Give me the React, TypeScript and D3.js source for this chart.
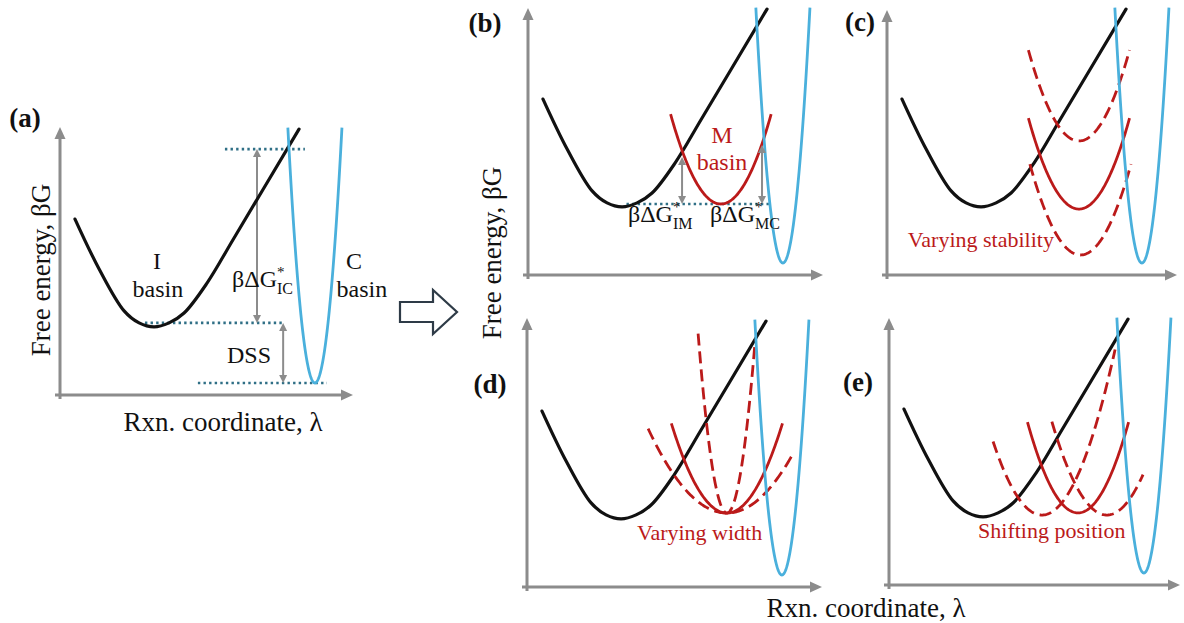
import React from "react";
import * as d3 from "d3";

const W = 1184;
const H = 623;
const SERIF = "'Liberation Serif', 'Times New Roman', serif";

const BLACK = "#111111";
const BLUE = "#4ab0dc";
const RED = "#bb1a1a";
const GREY = "#8c8c8c";
const TEAL = "#2f6f86";

// Reaction coordinate λ and free energy βG use arbitrary units on [0, 10] in every panel.

// I basin: points (λ, βG) along the intermediate-state well (skewed, almost linear on its right flank)
const I_LAMBDA = [0.51, 1.33, 2.18, 2.69, 3.2, 3.71, 4.22, 5.0, 5.92, 8.13];
const I_G = [6.59, 4.72, 3.15, 2.7, 2.55, 2.7, 3.07, 4.19, 5.88, 9.96];

// C basin: harmonic well βG = min + k (λ − centre)²
const C_BASIN = { center: 8.67, min: 0.45, k: 11.3, from: 7.75, to: 9.59 };

// M basins drawn in panels (b)–(e); "variant" marks the alternative wells
const M_BASINS = [
  { panel: "b", center: 6.56, min: 2.66, k: 1.15, from: 4.85, to: 8.27, variant: false },
  { panel: "c", center: 6.53, min: 5.02, k: 1.15, from: 4.81, to: 8.25, variant: true },
  { panel: "c", center: 6.53, min: 2.47, k: 1.15, from: 4.81, to: 8.25, variant: false },
  { panel: "c", center: 6.58, min: 0.75, k: 1.15, from: 4.86, to: 8.3, variant: true },
  { panel: "d", center: 6.8, min: 2.77, k: 7.0, from: 5.82, to: 7.76, variant: true },
  { panel: "d", center: 6.8, min: 2.77, k: 0.94, from: 4.91, to: 8.69, variant: false },
  { panel: "d", center: 6.8, min: 2.77, k: 0.44, from: 4.12, to: 9.05, variant: true },
  { panel: "e", center: 5.2, min: 2.62, k: 1.0, from: 3.54, to: 7.69, variant: true },
  { panel: "e", center: 6.43, min: 2.7, k: 1.15, from: 4.71, to: 8.15, variant: false },
  { panel: "e", center: 7.41, min: 2.62, k: 1.0, from: 5.54, to: 8.64, variant: true },
];

// Reference levels (βG, λ from, λ to)
const LEVELS_A = [
  { g: 9.21, from: 5.61, to: 8.33 },
  { g: 2.7, from: 2.89, to: 7.65 },
  { g: 0.45, from: 4.69, to: 9.08 },
];
const LEVELS_B = [{ g: 2.66, from: 3.35, to: 8.23 }];

// Barrier / stability gaps (λ, βG low, βG high)
const GAPS_A = [
  { l: 6.7, g0: 2.7, g1: 9.21 },
  { l: 7.59, g0: 0.45, g1: 2.7 },
];
const GAPS_B = [
  { l: 5.24, g0: 2.66, g1: 4.42 },
  { l: 7.96, g0: 2.66, g1: 4.87 },
];

// Panel frames: axis origin and arrow tips in pixels
const PANELS = [
  { id: "a", ox: 60, oy: 395, xTip: 353, yTip: 127 },
  { id: "b", ox: 528, oy: 275, xTip: 823, yTip: 8 },
  { id: "c", ox: 887, oy: 275, xTip: 1177, yTip: 10 },
  { id: "d", ox: 527, oy: 587, xTip: 822, yTip: 318 },
  { id: "e", ox: 889, oy: 585, xTip: 1180, yTip: 318 },
];

const TAGS = [
  { text: "(a)", x: 25, y: 127 },
  { text: "(b)", x: 485, y: 32 },
  { text: "(c)", x: 860, y: 31 },
  { text: "(d)", x: 490, y: 393 },
  { text: "(e)", x: 858, y: 391 },
];

function makeScales(p: { ox: number; oy: number }) {
  const x = d3.scaleLinear().domain([0, 10]).range([p.ox, p.ox + 294]);
  const y = d3.scaleLinear().domain([0, 10]).range([p.oy, p.oy - 267]);
  return { x, y };
}

type Basin = { center: number; min: number; k: number; from: number; to: number };

function basinPath(sx: d3.ScaleLinear<number, number>, sy: d3.ScaleLinear<number, number>, b: Basin) {
  const pts: [number, number][] = d3.range(0, 121).map((i) => {
    const l = b.from + ((b.to - b.from) * i) / 120;
    return [sx(l), sy(b.min + b.k * (l - b.center) ** 2)];
  });
  return d3.line()(pts) || "";
}

function iBasinPath(sx: d3.ScaleLinear<number, number>, sy: d3.ScaleLinear<number, number>) {
  const pts: [number, number][] = I_LAMBDA.map((l, i) => [sx(l), sy(I_G[i])]);
  return d3.line().curve(d3.curveCatmullRom.alpha(0.5))(pts) || "";
}

function Axes({ p }: { p: (typeof PANELS)[number] }) {
  return (
    <g>
      <line x1={p.ox} y1={p.oy + 4} x2={p.ox} y2={p.yTip + 10} stroke={GREY} strokeWidth={3} />
      <path d={`M${p.ox},${p.yTip} L${p.ox - 5.5},${p.yTip + 12} L${p.ox + 5.5},${p.yTip + 12} Z`} fill={GREY} />
      <line x1={p.ox - 5} y1={p.oy} x2={p.xTip - 10} y2={p.oy} stroke={GREY} strokeWidth={3} />
      <path d={`M${p.xTip},${p.oy} L${p.xTip - 12},${p.oy - 5.5} L${p.xTip - 12},${p.oy + 5.5} Z`} fill={GREY} />
    </g>
  );
}

function GapArrow({ x, y0, y1 }: { x: number; y0: number; y1: number }) {
  // y0 is the lower end (larger pixel value)
  const h = 8;
  const w = 4;
  return (
    <g>
      <line x1={x} y1={y0 - h + 1} x2={x} y2={y1 + h - 1} stroke={GREY} strokeWidth={2} />
      <path d={`M${x},${y1} L${x - w},${y1 + h} L${x + w},${y1 + h} Z`} fill={GREY} />
      <path d={`M${x},${y0} L${x - w},${y0 - h} L${x + w},${y0 - h} Z`} fill={GREY} />
    </g>
  );
}

function Barrier({ x, y, sub, size = 24 }: { x: number; y: number; sub: string; size?: number }) {
  return (
    <text x={x} y={y} fontFamily={SERIF} fontSize={size} fill={BLACK}>
      βΔG
      <tspan dy={-10} fontSize={15}>*</tspan>
      <tspan dx={-7.5} dy={17} fontSize={16}>{sub}</tspan>
    </text>
  );
}

function Panel({ p }: { p: (typeof PANELS)[number] }) {
  const { x, y } = makeScales(p);
  const ms = M_BASINS.filter((m) => m.panel === p.id);
  return (
    <g>
      <Axes p={p} />
      {p.id === "a" &&
        LEVELS_A.map((lv, i) => (
          <line key={i} x1={x(lv.from)} x2={x(lv.to)} y1={y(lv.g)} y2={y(lv.g)} stroke={TEAL} strokeWidth={2.6} strokeDasharray="2.4 3.2" />
        ))}
      {p.id === "b" &&
        LEVELS_B.map((lv, i) => (
          <line key={i} x1={x(lv.from)} x2={x(lv.to)} y1={y(lv.g)} y2={y(lv.g)} stroke={TEAL} strokeWidth={2.6} strokeDasharray="2.4 3.2" />
        ))}
      {p.id === "a" && GAPS_A.map((g, i) => <GapArrow key={i} x={x(g.l)} y0={y(g.g0)} y1={y(g.g1)} />)}
      <path d={iBasinPath(x, y)} fill="none" stroke={BLACK} strokeWidth={3.2} strokeLinecap="round" />
      {ms.map((m, i) => (
        <path
          key={i}
          d={basinPath(x, y, m)}
          fill="none"
          stroke={RED}
          strokeWidth={2.8}
          strokeDasharray={m.variant ? "12 6" : undefined}
        />
      ))}
      <path d={basinPath(x, y, C_BASIN)} fill="none" stroke={BLUE} strokeWidth={2.8} />
      {p.id === "b" && GAPS_B.map((g, i) => <GapArrow key={i} x={x(g.l)} y0={y(g.g0)} y1={y(g.g1)} />)}
    </g>
  );
}

export default function App() {
  const pa = makeScales(PANELS[0]);
  const pb = makeScales(PANELS[1]);
  const pc = makeScales(PANELS[2]);
  const pd = makeScales(PANELS[3]);
  const pe = makeScales(PANELS[4]);
  return (
    <svg
      width={W}
      height={H}
      viewBox={`0 0 ${W} ${H}`}
      style={{ position: "absolute", left: 0, top: 0, background: "#ffffff" }}
    >
      <rect x={0} y={0} width={W} height={H} fill="#ffffff" />
      {PANELS.map((p) => (
        <Panel key={p.id} p={p} />
      ))}

      {TAGS.map((t) => (
        <text key={t.text} x={t.x} y={t.y} textAnchor="middle" fontFamily={SERIF} fontWeight="bold" fontSize={27} fill={BLACK}>
          {t.text}
        </text>
      ))}

      {/* panel (a) annotations */}
      <g fontFamily={SERIF} fontSize={24} fill={BLACK} textAnchor="middle">
        <text x={pa.x(3.3)} y={pa.y(4.72)}>I</text>
        <text x={pa.x(3.33)} y={pa.y(3.67)}>basin</text>
        <text x={pa.x(10.0)} y={pa.y(4.72)}>C</text>
        <text x={pa.x(10.27)} y={pa.y(3.67)}>basin</text>
      </g>
      <Barrier x={pa.x(5.85)} y={pa.y(4.04)} sub="IC" />
      <text x={pa.x(5.68)} y={pa.y(1.2)} fontFamily={SERIF} fontSize={24} fill={BLACK}>
        DSS
      </text>
      <text transform={`translate(50,270) rotate(-90)`} textAnchor="middle" fontFamily={SERIF} fontSize={27} fill={BLACK}>
        Free energy, βG
      </text>
      <text x={223} y={431} textAnchor="middle" fontFamily={SERIF} fontSize={27} fill={BLACK}>
        Rxn. coordinate, λ
      </text>

      {/* transition arrow */}
      <path
        d="M400,302 L433,302 L433,290 L457,312 L433,334 L433,322 L400,322 Z"
        fill="#ffffff"
        stroke="#2e3b47"
        strokeWidth={2.2}
        strokeLinejoin="miter"
      />

      {/* panel (b) annotations */}
      <g fontFamily={SERIF} fontSize={24} fill={RED} textAnchor="middle">
        <text x={pb.x(6.6)} y={pb.y(4.94)}>M</text>
        <text x={pb.x(6.6)} y={pb.y(3.93)}>basin</text>
      </g>
      <Barrier x={pb.x(3.4)} y={pb.y(1.99)} sub="IM" />
      <Barrier x={pb.x(6.19)} y={pb.y(1.99)} sub="MC" />

      {/* captions of panels (c)–(e) */}
      <g fontFamily={SERIF} fontSize={22} fill={RED}>
        <text x={pc.x(0.71)} y={pc.y(1.05)}>Varying stability</text>
        <text x={pd.x(3.74)} y={pd.y(1.76)}>Varying width</text>
        <text x={pe.x(3.03)} y={pe.y(1.76)}>Shifting position</text>
      </g>

      {/* shared axis titles for (b)–(e) */}
      <text transform={`translate(501,253) rotate(-90)`} textAnchor="middle" fontFamily={SERIF} fontSize={27} fill={BLACK}>
        Free energy, βG
      </text>
      <text x={866} y={617} textAnchor="middle" fontFamily={SERIF} fontSize={27} fill={BLACK}>
        Rxn. coordinate, λ
      </text>
    </svg>
  );
}
